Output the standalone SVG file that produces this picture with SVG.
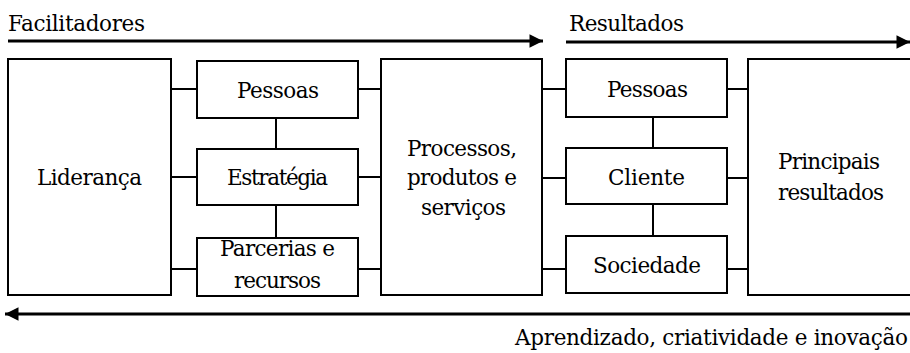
<svg xmlns="http://www.w3.org/2000/svg" width="910" height="353" viewBox="0 0 910 353">
  <style>
    .box { fill: #fff; stroke: #000; stroke-width: 2; }
    .link { stroke: #000; stroke-width: 2; fill: none; }
    .flow { stroke: #000; stroke-width: 3; fill: none; }
    .c { text-anchor: middle; }
  </style>
  <defs>
    <marker id="head" viewBox="0 0 10 10" refX="10" refY="5" markerWidth="5" markerHeight="4.5" orient="auto" markerUnits="strokeWidth">
      <path d="M0,0 L10,5 L0,10 Z" fill="#000"/>
    </marker>
  </defs>

  <g font-family="DejaVu Serif, Liberation Serif, serif" font-size="21.5" fill="#000">
  <!-- flow arrows and their labels -->
  <g id="flows">
    <line class="flow" x1="8" y1="41" x2="543" y2="41" marker-end="url(#head)"/>
    <line class="flow" x1="566" y1="42" x2="910" y2="42" marker-end="url(#head)"/>
    <line class="flow" x1="910" y1="314" x2="5" y2="314" marker-end="url(#head)"/>
    <text x="8" y="31" textLength="137" lengthAdjust="spacing">Facilitadores</text>
    <text x="569" y="31" textLength="115" lengthAdjust="spacing">Resultados</text>
    <text x="515" y="345" textLength="393" lengthAdjust="spacing">Aprendizado, criatividade e inovação</text>
  </g>

  <!-- connectors -->
  <g id="connectors">
    <line class="link" x1="171" y1="89" x2="197" y2="89"/>
    <line class="link" x1="171" y1="177" x2="197" y2="177"/>
    <line class="link" x1="171" y1="269" x2="197" y2="269"/>
    <line class="link" x1="276" y1="118" x2="276" y2="149"/>
    <line class="link" x1="276" y1="205" x2="276" y2="238"/>
    <line class="link" x1="358" y1="89" x2="381" y2="89"/>
    <line class="link" x1="358" y1="177" x2="381" y2="177"/>
    <line class="link" x1="358" y1="269" x2="381" y2="269"/>
    <line class="link" x1="542" y1="89" x2="566" y2="89"/>
    <line class="link" x1="542" y1="178" x2="566" y2="178"/>
    <line class="link" x1="542" y1="269" x2="566" y2="269"/>
    <line class="link" x1="653" y1="117" x2="653" y2="148"/>
    <line class="link" x1="653" y1="204" x2="653" y2="236"/>
    <line class="link" x1="727" y1="89" x2="748" y2="89"/>
    <line class="link" x1="727" y1="178" x2="748" y2="178"/>
    <line class="link" x1="727" y1="269" x2="748" y2="269"/>
  </g>

  <g id="lideranca">
    <rect class="box" x="8" y="59" width="163" height="236"/>
    <text class="c" x="89.5" y="185" textLength="105" lengthAdjust="spacing">Liderança</text>
  </g>
  <g id="pessoas-f">
    <rect class="box" x="197" y="61" width="161" height="57"/>
    <text class="c" x="278" y="98" textLength="82" lengthAdjust="spacing">Pessoas</text>
  </g>
  <g id="estrategia">
    <rect class="box" x="197" y="149" width="161" height="56"/>
    <text class="c" x="277.5" y="185" textLength="101" lengthAdjust="spacing">Estratégia</text>
  </g>
  <g id="parcerias">
    <rect class="box" x="197" y="238" width="161" height="58"/>
    <text class="c" x="277.5" y="256" textLength="115" lengthAdjust="spacing">Parcerias e</text>
    <text class="c" x="277.5" y="288" textLength="87" lengthAdjust="spacing">recursos</text>
  </g>
  <g id="processos">
    <rect class="box" x="381" y="59" width="161" height="236"/>
    <text class="c" x="462" y="156" textLength="110" lengthAdjust="spacing">Processos,</text>
    <text class="c" x="462" y="185" textLength="110" lengthAdjust="spacing">produtos e</text>
    <text class="c" x="463.5" y="215" textLength="85" lengthAdjust="spacing">serviços</text>
  </g>
  <g id="pessoas-r">
    <rect class="box" x="566" y="59" width="161" height="58"/>
    <text class="c" x="647.5" y="97" textLength="81" lengthAdjust="spacing">Pessoas</text>
  </g>
  <g id="cliente">
    <rect class="box" x="566" y="148" width="161" height="56"/>
    <text class="c" x="646.5" y="185" textLength="77" lengthAdjust="spacing">Cliente</text>
  </g>
  <g id="sociedade">
    <rect class="box" x="566" y="236" width="161" height="57"/>
    <text class="c" x="647" y="273" textLength="108" lengthAdjust="spacing">Sociedade</text>
  </g>
  <g id="principais">
    <path class="box" d="M912,59 H748 V295 H912"/>
    <text class="c" x="829" y="169" textLength="102" lengthAdjust="spacing">Principais</text>
    <text class="c" x="831" y="200" textLength="106" lengthAdjust="spacing">resultados</text>
  </g>
  </g>
</svg>
